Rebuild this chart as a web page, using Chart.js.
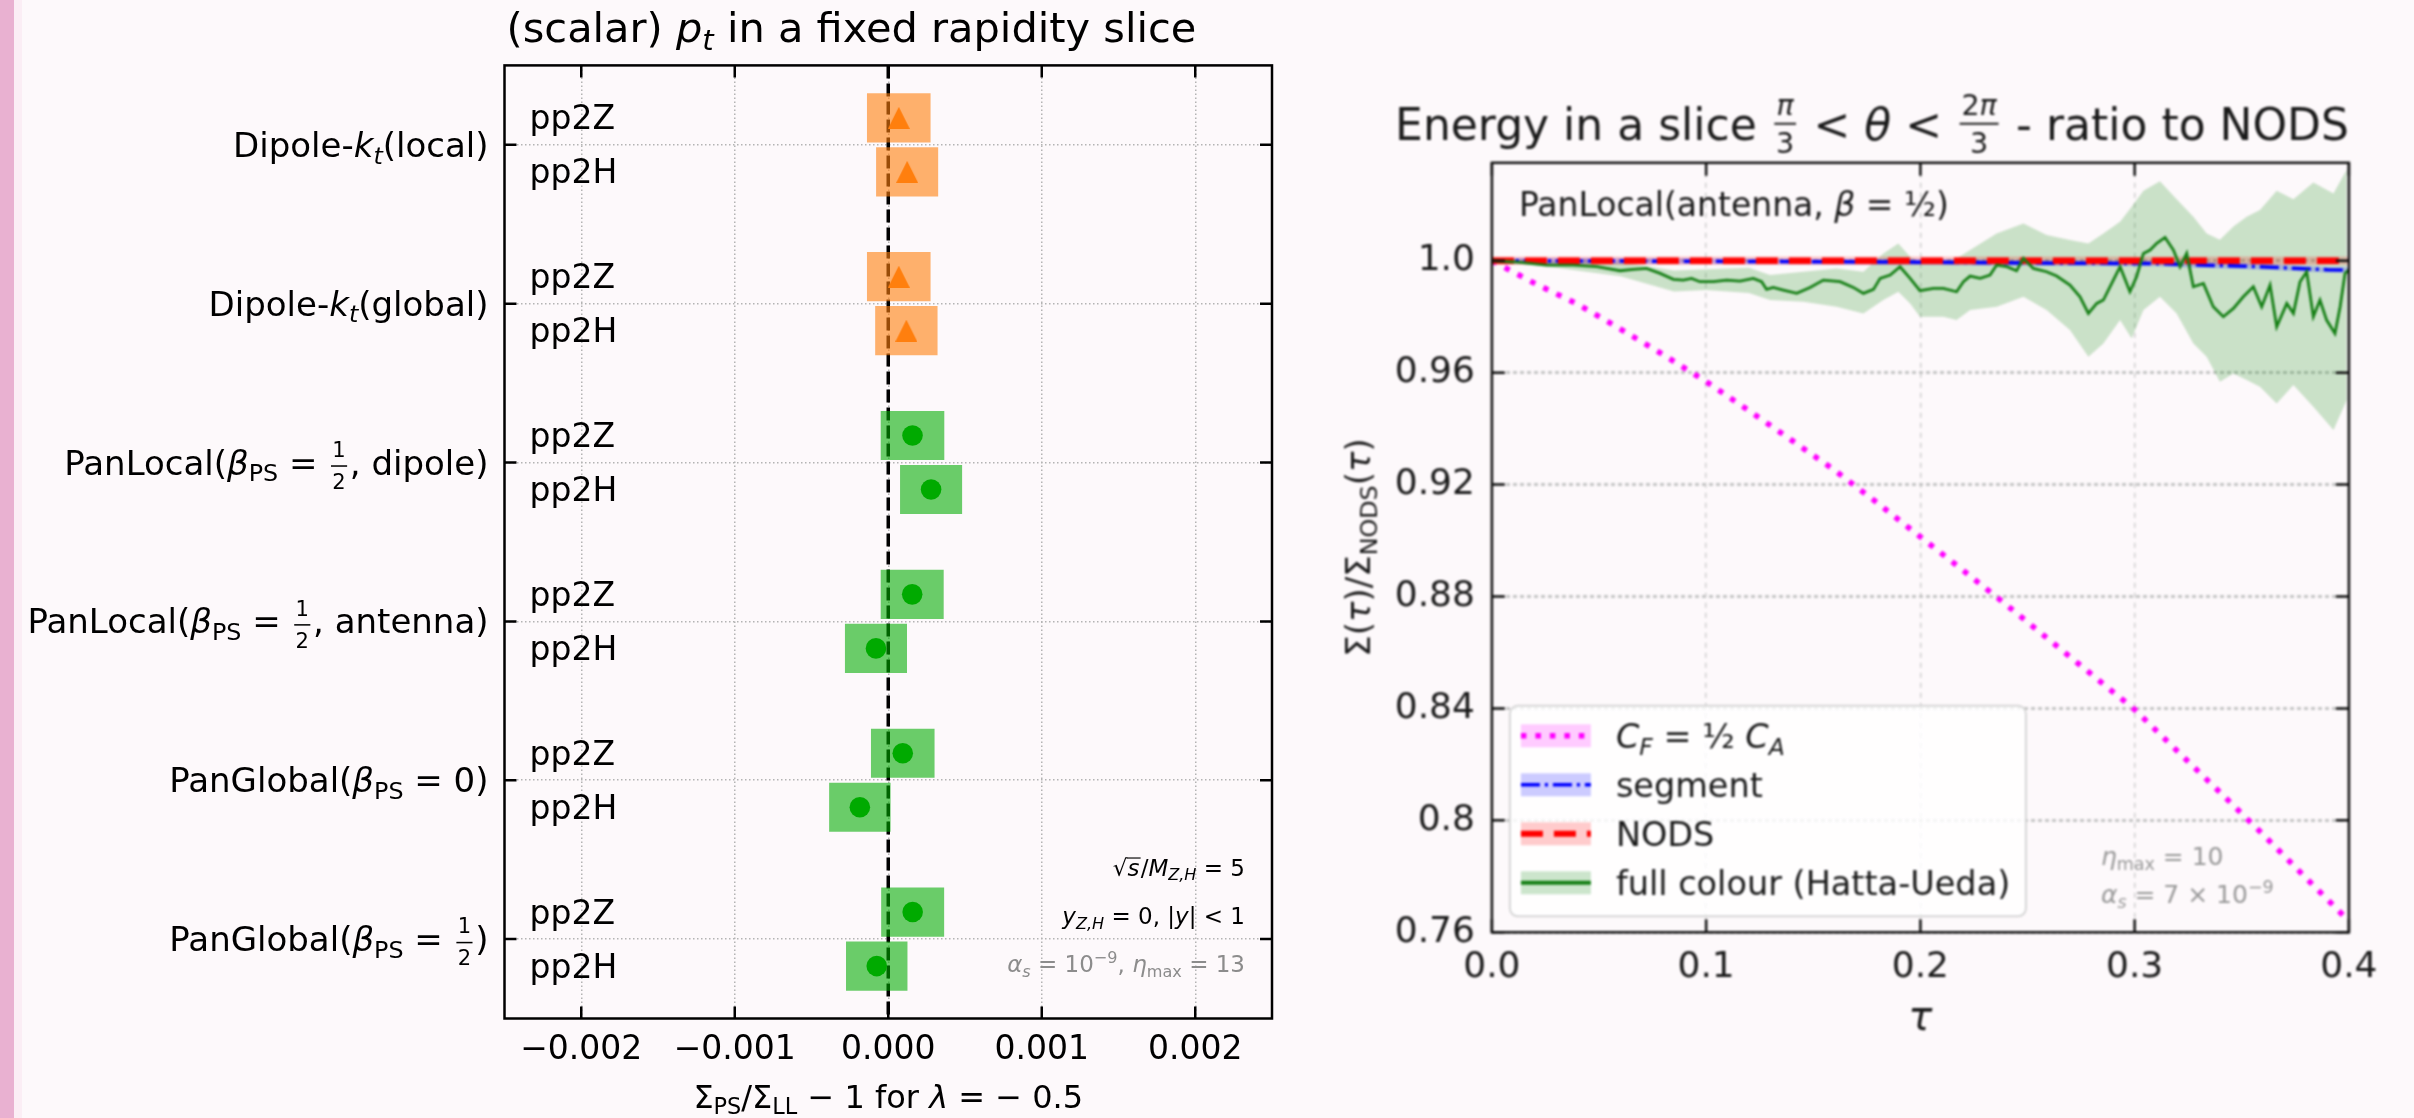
<!DOCTYPE html>
<html>
<head>
<meta charset="utf-8">
<script src="https://cdn.jsdelivr.net/npm/chart.js@4.4.1/dist/chart.umd.min.js"></script>
<style>
  html, body { margin: 0; padding: 0; background: #fdf9fb; }
  body { width: 2414px; height: 1118px; position: relative; overflow: hidden; }
  #edge { position: absolute; left: 0; top: 0; width: 14px; height: 1118px; background: #e9b1d1; }
  #edge2 { position: absolute; left: 14px; top: 0; width: 8px; height: 1118px; background: #fbeef5; }
  #left { position: absolute; left: 0; top: 0; }
  #right { position: absolute; left: 1300px; top: 0; filter: blur(1.3px); }
</style>
</head>
<body>
<div id="edge"></div><div id="edge2"></div>
<canvas id="left" width="1300" height="1118"></canvas>
<canvas id="right" width="1114" height="1118"></canvas>
<script>
// ---------- left panel: scalar pt in a rapidity slice ----------
const half = [[{t: '1'}], [{t: '2'}]];
const showers = [
  [{t: 'Dipole-'}, {t: 'k', it: 1}, {t: 't', it: 1, sub: 1}, {t: '(local)'}],
  [{t: 'Dipole-'}, {t: 'k', it: 1}, {t: 't', it: 1, sub: 1}, {t: '(global)'}],
  [{t: 'PanLocal('}, {t: 'β', it: 1}, {t: 'PS', sub: 1}, {t: ' = '}, {frac: half}, {t: ', dipole)'}],
  [{t: 'PanLocal('}, {t: 'β', it: 1}, {t: 'PS', sub: 1}, {t: ' = '}, {frac: half}, {t: ', antenna)'}],
  [{t: 'PanGlobal('}, {t: 'β', it: 1}, {t: 'PS', sub: 1}, {t: ' = 0)'}],
  [{t: 'PanGlobal('}, {t: 'β', it: 1}, {t: 'PS', sub: 1}, {t: ' = '}, {frac: half}, {t: ')'}]
];
const showerKind = ['dipole', 'dipole', 'pan', 'pan', 'pan', 'pan'];
const processes = ['pp2Z', 'pp2H'];
const shiftZ = [0.0000685, 0.0000685, 0.000158, 0.000156, 0.0000945, 0.000159];
const shiftH = [0.000123, 0.000118, 0.000279, -0.00008, -0.000185, -0.000075];
const errZ = [0.000205, 0.000205, 0.000205, 0.000203, 0.000205, 0.000203];
const errH = [0.0002, 0.000201, 0.0002, 0.0002, 0.000198, 0.000198];
const xTicks = [-0.002, -0.001, 0, 0.001, 0.002];
const xTickLabels = ['−0.002', '−0.001', '0.000', '0.001', '0.002'];

// ---------- right panel: energy in a slice, ratio to NODS ----------
const tauTicks = [0, 0.1, 0.2, 0.3, 0.4];
const tauTickLabels = ['0.0', '0.1', '0.2', '0.3', '0.4'];
const ratioTicks = [0.76, 0.8, 0.84, 0.88, 0.92, 0.96, 1.0];
const ratioTickLabels = ['0.76', '0.8', '0.84', '0.88', '0.92', '0.96', '1.0'];

const cfTau = [0, 0.02, 0.04, 0.06, 0.08, 0.10, 0.12, 0.14, 0.16, 0.18, 0.20, 0.22, 0.24, 0.26, 0.28, 0.30, 0.32, 0.34, 0.36, 0.38, 0.40];
const cfRatio = [1.0, 0.9919, 0.9845, 0.9756, 0.9664, 0.9568, 0.9464, 0.9358, 0.9251, 0.9134, 0.9013, 0.8893, 0.8771, 0.8646, 0.8521, 0.8396, 0.8247, 0.8099, 0.7949, 0.7794, 0.764];

const segTau = [0, 0.1, 0.2, 0.265, 0.31, 0.33, 0.358, 0.374, 0.39, 0.4];
const segRatio = [1.0, 0.9998, 0.9995, 0.9991, 0.999, 0.9985, 0.9979, 0.9973, 0.9968, 0.9967];
const segErr = 0.001;

const nodsTau = [0, 0.4];
const nodsRatio = [1.0, 1.0];
const nodsErr = 0.0015;

const fullTau = [0, 0.012, 0.0256, 0.038, 0.049, 0.0536, 0.0598, 0.066, 0.0722, 0.0785, 0.0847, 0.0893, 0.0932, 0.0971, 0.1034, 0.1096, 0.1158, 0.122, 0.1259, 0.1282, 0.1313,
  0.136, 0.1423, 0.1485, 0.1547, 0.1625, 0.1687, 0.1734, 0.1781, 0.1812, 0.1859, 0.1905, 0.1952, 0.1998, 0.2061, 0.2107, 0.2169, 0.2201, 0.2232, 0.2279, 0.2325, 0.2356, 0.2403, 0.2449, 0.2481, 0.2527, 0.2589, 0.2636,
  0.2698, 0.2745, 0.2784, 0.2823, 0.2854, 0.2893, 0.2932, 0.2978, 0.3009, 0.3041, 0.3072, 0.3103, 0.3142, 0.3181, 0.3212, 0.3243, 0.3274, 0.3321, 0.3367, 0.3414, 0.3461, 0.3507, 0.3554, 0.3593, 0.3632, 0.3663, 0.371, 0.3741, 0.3772, 0.3803, 0.3834, 0.3865, 0.3896, 0.3935, 0.3959, 0.3982, 0.3999];
const fullRatio = [1.0, 0.9995, 0.99845, 0.99845, 0.99786, 0.99726, 0.99643, 0.9969, 0.99726, 0.99547, 0.99333, 0.99309, 0.99369, 0.9925, 0.9925, 0.99309, 0.99273, 0.99369, 0.9925, 0.98975, 0.99047,
  0.98952, 0.98833, 0.99047, 0.99309, 0.9925, 0.99047, 0.98833, 0.98975, 0.99369, 0.99488, 0.99786, 0.99369, 0.98928, 0.99011, 0.99011, 0.98892, 0.9925, 0.99452, 0.99369, 0.99488, 0.99845, 0.99786, 0.99643, 1.00083, 0.99726, 0.99607, 0.99452,
  0.9913, 0.98713, 0.98118, 0.98475, 0.98594, 0.9919, 0.99786, 0.98892, 0.99428, 1.00262, 1.00381, 1.0062, 1.00834, 1.00381, 0.99786, 1.00262, 0.99071, 0.9919, 0.98356, 0.97999, 0.98296, 0.98713, 0.99071, 0.98356, 0.9913, 0.97641, 0.98475, 0.98118, 0.9925, 0.99607, 0.97999, 0.98594, 0.97879, 0.97403, 0.98356, 0.99547, 0.99666];

const bandTau = [0, 0.03, 0.06, 0.085, 0.10, 0.12, 0.1298, 0.1454, 0.1609, 0.1734, 0.1827, 0.1897, 0.1952, 0.1998, 0.2107, 0.2169, 0.2232, 0.2356, 0.2481, 0.2589, 0.2698, 0.2784, 0.2854, 0.2932, 0.2986, 0.3041, 0.3118, 0.3196, 0.3274, 0.3336, 0.3398, 0.3461, 0.3523, 0.3585, 0.3663, 0.3741, 0.3834, 0.3928, 0.3990];
const bandLow = [1.0, 0.9975, 0.9945, 0.989, 0.9895, 0.9885, 0.98594, 0.98535, 0.98356, 0.98118, 0.98594, 0.98892, 0.98475, 0.97999, 0.97999, 0.9788, 0.98237, 0.98356, 0.98713, 0.98237, 0.97522, 0.96569, 0.97046, 0.97879, 0.97224, 0.98237, 0.98713, 0.98118, 0.97046, 0.96569, 0.95676, 0.9597, 0.95735, 0.95497, 0.94901, 0.95556, 0.94782, 0.93948, 0.9502];
const bandHigh = [1.0, 1.0, 0.9995, 0.9965, 0.997, 0.9975, 0.99488, 0.99607, 0.99726, 0.99607, 1.00262, 1.0062, 1.00143, 0.99905, 1.00024, 1.00083, 1.00381, 1.00977, 1.01334, 1.00917, 1.00739, 1.0062, 1.00977, 1.01394, 1.0193, 1.025, 1.0284, 1.022, 1.01573, 1.00977, 1.0075, 1.0122, 1.01573, 1.01811, 1.025, 1.022, 1.028, 1.024, 1.0326];

// ---------- text helpers (mathtext-like runs) ----------
const FONT = '"DejaVu Sans", "Noto Sans", sans-serif';
const fnt = (it, size) => (it ? 'italic ' : '') + size.toFixed(2) + 'px ' + FONT;
const pts = (xs, ys) => xs.map((x, i) => ({x, y: ys[i]}));

// fraction geometry, in units of the surrounding font size
function fracGeom(tk) {
  return {fs: tk.fs || 0.62, bar: tk.bar || 0.25, up: tk.up || 0.27, dn: tk.dn || 0.22};
}

function richWidth(ctx, toks, size) {
  let w = 0;
  for (const tk of toks) {
    if (tk.frac) {
      const fs = size * fracGeom(tk).fs;
      w += Math.max(richWidth(ctx, tk.frac[0], fs), richWidth(ctx, tk.frac[1], fs)) + size * 0.24;
    } else if (tk.sqrt) {
      ctx.font = fnt(false, size);
      w += ctx.measureText('√').width + richWidth(ctx, tk.sqrt, size) + size * 0.05;
    } else {
      ctx.font = fnt(tk.it, tk.sub || tk.sup ? size * 0.7 : size);
      w += ctx.measureText(tk.t).width;
    }
  }
  return w;
}

function drawRich(ctx, toks, x, y, size, align, color) {
  const w = richWidth(ctx, toks, size);
  if (align === 'right') x -= w;
  else if (align === 'center') x -= w / 2;
  ctx.save();
  ctx.textAlign = 'left';
  ctx.textBaseline = 'alphabetic';
  ctx.fillStyle = color;
  ctx.strokeStyle = color;
  for (const tk of toks) {
    if (tk.frac) {
      const g = fracGeom(tk);
      const fs = size * g.fs;
      const nw = richWidth(ctx, tk.frac[0], fs);
      const dw = richWidth(ctx, tk.frac[1], fs);
      const fw = Math.max(nw, dw) + size * 0.24;
      const bar = y - size * g.bar;
      drawRich(ctx, tk.frac[0], x + (fw - nw) / 2, bar - size * g.up, fs, 'left', color);
      drawRich(ctx, tk.frac[1], x + (fw - dw) / 2, bar + size * g.dn + fs * 0.73, fs, 'left', color);
      ctx.lineWidth = Math.max(1, size * 0.045);
      ctx.beginPath();
      ctx.moveTo(x + size * 0.08, bar);
      ctx.lineTo(x + fw - size * 0.08, bar);
      ctx.stroke();
      x += fw;
    } else if (tk.sqrt) {
      ctx.font = fnt(false, size);
      const rw = ctx.measureText('√').width;
      ctx.fillText('√', x, y);
      const iw = richWidth(ctx, tk.sqrt, size);
      ctx.lineWidth = Math.max(1, size * 0.05);
      ctx.beginPath();
      ctx.moveTo(x + rw - size * 0.04, y - size * 0.76);
      ctx.lineTo(x + rw + iw + size * 0.05, y - size * 0.76);
      ctx.stroke();
      drawRich(ctx, tk.sqrt, x + rw, y, size, 'left', color);
      x += rw + iw + size * 0.05;
    } else {
      const fs = tk.sub || tk.sup ? size * 0.7 : size;
      const dy = tk.sub ? size * 0.2 : tk.sup ? -size * 0.4 : 0;
      ctx.font = fnt(tk.it, fs);
      ctx.fillText(tk.t, x, y + dy);
      x += ctx.measureText(tk.t).width;
    }
  }
  ctx.restore();
  return w;
}

function frameAndTicks(ctx, a, xs, ys, xScale, yScale, len, width, color) {
  ctx.save();
  ctx.strokeStyle = color;
  ctx.lineWidth = width;
  ctx.beginPath();
  xs.forEach(v => {
    const px = xScale.getPixelForValue(v);
    ctx.moveTo(px, a.bottom); ctx.lineTo(px, a.bottom - len);
    ctx.moveTo(px, a.top); ctx.lineTo(px, a.top + len);
  });
  ys.forEach(v => {
    const py = yScale.getPixelForValue(v);
    ctx.moveTo(a.left, py); ctx.lineTo(a.left + len, py);
    ctx.moveTo(a.right, py); ctx.lineTo(a.right - len, py);
  });
  ctx.stroke();
  ctx.strokeRect(a.left, a.top, a.right - a.left, a.bottom - a.top);
  ctx.restore();
}

// triangle marker centred on its bounding box
function triangleMarker(size, color) {
  const c = document.createElement('canvas');
  c.width = size; c.height = size;
  const g = c.getContext('2d');
  g.fillStyle = color;
  g.beginPath();
  g.moveTo(size / 2, 0);
  g.lineTo(size, size);
  g.lineTo(0, size);
  g.closePath();
  g.fill();
  return c;
}

const ORANGE = '#ff7f0e';
const GREEN = '#00aa00';
const rowOffset = [-0.17, 0.17];
const rows = [];
showers.forEach((s, i) => {
  [shiftZ, shiftH].forEach((vals, j) => {
    const errs = j ? errH : errZ;
    rows.push({pos: i + rowOffset[j], c: vals[i], e: errs[i], kind: showerKind[i]});
  });
});

const leftDecor = {
  id: 'leftDecor',
  afterDraw(chart) {
    const {ctx, chartArea: a, scales: {x, y}} = chart;
    frameAndTicks(ctx, a, xTicks, showers.map((s, i) => i), x, y, 12, 2.5, '#000');
    showers.forEach((toks, i) => {
      drawRich(ctx, toks, a.left - 16, y.getPixelForValue(i) + 12, 34, 'right', '#000');
      processes.forEach((p, j) => {
        drawRich(ctx, [{t: p}], a.left + 25, y.getPixelForValue(i + rowOffset[j]) + 11.5, 33, 'left', '#000');
      });
    });
    drawRich(ctx, [{t: '(scalar) '}, {t: 'p', it: 1}, {t: 't', it: 1, sub: 1}, {t: ' in a fixed rapidity slice'}], a.left + 2, 41.5, 41.5, 'left', '#000');
    drawRich(ctx, [{t: 'Σ'}, {t: 'PS', sub: 1}, {t: '/Σ'}, {t: 'LL', sub: 1}, {t: ' − 1 for '}, {t: 'λ', it: 1}, {t: ' = − 0.5'}],
      (a.left + a.right) / 2, 1107.5, 32, 'center', '#000');
    const nx = a.right - 27;
    drawRich(ctx, [{sqrt: [{t: 's', it: 1}]}, {t: '/'}, {t: 'M', it: 1}, {t: 'Z,H', it: 1, sub: 1}, {t: ' = 5'}], nx, a.bottom - 143, 23, 'right', '#000');
    drawRich(ctx, [{t: 'y', it: 1}, {t: 'Z,H', it: 1, sub: 1}, {t: ' = 0, |'}, {t: 'y', it: 1}, {t: '| < 1'}], nx, a.bottom - 94.5, 23, 'right', '#000');
    drawRich(ctx, [{t: 'α', it: 1}, {t: 's', it: 1, sub: 1}, {t: ' = 10'}, {t: '−9', sup: 1}, {t: ', '}, {t: 'η', it: 1}, {t: 'max', sub: 1}, {t: ' = 13'}], nx, a.bottom - 46.5, 23, 'right', '#8c8c8c');
  }
};

new Chart(document.getElementById('left'), {
  type: 'scatter',
  data: {
    datasets: [
      {
        type: 'line',
        data: [{x: 0, y: -0.5}, {x: 0, y: 5.5}],
        borderColor: '#000', borderWidth: 3.5, borderDash: [13, 5], borderCapStyle: 'butt',
        pointRadius: 0, order: 3
      },
      {
        type: 'bar',
        indexAxis: 'y',
        data: rows.map(r => ({y: r.pos, x: [r.c - r.e, r.c + r.e]})),
        backgroundColor: rows.map(r => r.kind === 'dipole' ? 'rgba(255,127,14,0.6)' : 'rgba(0,170,0,0.58)'),
        borderWidth: 0, barThickness: 48.5, order: 2
      },
      {
        type: 'scatter',
        data: rows.filter(r => r.kind === 'dipole').map(r => ({x: r.c, y: r.pos})),
        pointStyle: triangleMarker(22, ORANGE), pointRadius: 11, order: 1
      },
      {
        type: 'scatter',
        data: rows.filter(r => r.kind === 'pan').map(r => ({x: r.c, y: r.pos})),
        pointStyle: 'circle', pointRadius: 10.3, backgroundColor: GREEN, borderWidth: 0, order: 1
      }
    ]
  },
  options: {
    responsive: false,
    animation: false,
    events: [],
    layout: {padding: {top: 65.4, right: 28, bottom: 0, left: 0}},
    plugins: {legend: {display: false}, tooltip: {enabled: false}},
    scales: {
      x: {
        type: 'linear', min: -0.0025, max: 0.0025, offset: false,
        afterBuildTicks: s => { s.ticks = xTicks.map(v => ({value: v})); },
        afterFit: s => { s.height = 99.5; },
        grid: {color: '#b4b4b4', lineWidth: 1.5, drawTicks: false, offset: false},
        border: {display: false, dash: [1.5, 2.5]},
        ticks: {
          padding: 12, color: '#000', font: {family: 'DejaVu Sans', size: 33}, maxRotation: 0,
          callback: v => { const i = xTicks.findIndex(t => Math.abs(t - v) < 1e-9); return i >= 0 ? xTickLabels[i] : ''; }
        }
      },
      y: {
        type: 'linear', min: -0.5, max: 5.5, reverse: true, offset: false,
        afterBuildTicks: s => { s.ticks = showers.map((t, i) => ({value: i})); },
        afterFit: s => { s.width = 504.5; },
        grid: {color: '#b4b4b4', lineWidth: 1.5, drawTicks: false, offset: false},
        border: {display: false, dash: [1.5, 2.5]},
        ticks: {display: false}
      }
    }
  },
  plugins: [leftDecor]
});

// ---------- right panel ----------
const legendItems = [
  {label: [{t: 'C', it: 1}, {t: 'F', it: 1, sub: 1}, {t: ' = ½ '}, {t: 'C', it: 1}, {t: 'A', it: 1, sub: 1}], color: '#ff00ff', band: 'rgba(255,0,255,0.2)', dash: [5.5, 9], width: 5.5},
  {label: [{t: 'segment'}], color: '#0000ff', band: 'rgba(0,0,255,0.2)', dash: [19, 5, 3, 5], width: 3.5},
  {label: [{t: 'NODS'}], color: '#ff0000', band: 'rgba(255,0,0,0.2)', dash: [22, 11], width: 6},
  {label: [{t: 'full colour (Hatta-Ueda)'}], color: '#157f15', band: 'rgba(0,128,0,0.2)', dash: [], width: 4}
];

const rightDecor = {
  id: 'rightDecor',
  afterDraw(chart) {
    const {ctx, chartArea: a, scales: {x, y}} = chart;
    frameAndTicks(ctx, a, tauTicks, ratioTicks, x, y, 13, 2.5, '#111');
    const ink = '#1a1a1a';
    const big = {fs: 0.65, bar: 0.36, up: 0.2, dn: 0.2};
    drawRich(ctx, [{t: 'Energy in a slice '}, Object.assign({frac: [[{t: 'π', it: 1}], [{t: '3'}]]}, big), {t: ' < '}, {t: 'θ', it: 1}, {t: ' < '},
      Object.assign({frac: [[{t: '2'}, {t: 'π', it: 1}], [{t: '3'}]]}, big), {t: ' - ratio to NODS'}], a.right, 139.6, 44, 'right', ink);
    drawRich(ctx, [{t: 'τ', it: 1}], (a.left + a.right) / 2, 1029.8, 40, 'center', ink);
    ctx.save();
    ctx.translate(70, (a.top + a.bottom) / 2);
    ctx.rotate(-Math.PI / 2);
    drawRich(ctx, [{t: 'Σ('}, {t: 'τ', it: 1}, {t: ')/Σ'}, {t: 'NODS', sub: 1}, {t: '('}, {t: 'τ', it: 1}, {t: ')'}], 0, 0, 34, 'center', ink);
    ctx.restore();
    drawRich(ctx, [{t: 'PanLocal(antenna, '}, {t: 'β', it: 1}, {t: ' = ½)'}], a.left + 27, a.top + 53, 33, 'left', ink);
    drawRich(ctx, [{t: 'η', it: 1}, {t: 'max', sub: 1}, {t: ' = 10'}], a.left + 609, a.bottom - 67, 25, 'left', '#999');
    drawRich(ctx, [{t: 'α', it: 1}, {t: 's', it: 1, sub: 1}, {t: ' = 7 × 10'}, {t: '−9', sup: 1}], a.left + 609, a.bottom - 29, 25, 'left', '#999');

    // legend
    const lx = a.left + 18, ly = a.top + 543, lw = 516, lh = a.bottom - 16 - ly;
    ctx.save();
    ctx.fillStyle = 'rgba(255,255,255,0.8)';
    ctx.strokeStyle = '#d6d6d6';
    ctx.lineWidth = 2;
    ctx.beginPath();
    ctx.roundRect(lx, ly, lw, lh, 8);
    ctx.fill();
    ctx.stroke();
    legendItems.forEach((it, i) => {
      const cy = ly + 30 + i * 49;
      ctx.fillStyle = it.band;
      ctx.fillRect(lx + 11, cy - 11.5, 70, 23);
      ctx.strokeStyle = it.color;
      ctx.lineWidth = it.width;
      ctx.lineCap = 'butt';
      ctx.setLineDash(it.dash);
      ctx.beginPath();
      ctx.moveTo(lx + 11, cy);
      ctx.lineTo(lx + 81, cy);
      ctx.stroke();
      ctx.setLineDash([]);
      drawRich(ctx, it.label, lx + 106, cy + 12, 33.5, 'left', ink);
    });
    ctx.restore();
  }
};

const lineDs = (data, color, width, dash, order) => ({
  data, showLine: true, pointRadius: 0, borderColor: color, borderWidth: width,
  borderDash: dash, borderCapStyle: 'butt', tension: 0, fill: false, order
});
const bandDs = (data, color, fill, order) => ({
  data, showLine: true, pointRadius: 0, borderWidth: 0, borderColor: 'rgba(0,0,0,0)',
  backgroundColor: color, fill, tension: 0, order
});

new Chart(document.getElementById('right'), {
  type: 'scatter',
  data: {
    datasets: [
      bandDs(pts(bandTau, bandLow), 'rgba(0,0,0,0)', false, 30),
      bandDs(pts(bandTau, bandHigh), 'rgba(0,128,0,0.2)', '-1', 29),
      bandDs(pts(nodsTau, nodsRatio.map(v => v - nodsErr)), 'rgba(0,0,0,0)', false, 28),
      bandDs(pts(nodsTau, nodsRatio.map(v => v + nodsErr)), 'rgba(255,0,0,0.2)', '-1', 27),
      bandDs(pts(segTau, segRatio.map(v => v - segErr)), 'rgba(0,0,0,0)', false, 26),
      bandDs(pts(segTau, segRatio.map(v => v + segErr)), 'rgba(0,0,255,0.2)', '-1', 25),
      lineDs(pts(cfTau, cfRatio), '#ff00ff', 5.5, [5.5, 9], 4),
      lineDs(pts(segTau, segRatio), '#0000ff', 3.5, [19, 5, 3, 5], 3),
      lineDs(pts(nodsTau, nodsRatio), '#ff0000', 6.5, [22, 11], 2),
      lineDs(pts(fullTau, fullRatio), '#157f15', 2.8, [], 1)
    ]
  },
  options: {
    responsive: false,
    animation: false,
    events: [],
    layout: {padding: {top: 162.8, right: 65.1, bottom: 0, left: 0}},
    plugins: {legend: {display: false}, tooltip: {enabled: false}},
    scales: {
      x: {
        type: 'linear', min: 0, max: 0.4,
        afterBuildTicks: s => { s.ticks = tauTicks.map(v => ({value: v})); },
        afterFit: s => { s.height = 185.7; },
        grid: {color: '#cfcfcf', lineWidth: 1.5, drawTicks: false},
        border: {display: false, dash: [5, 5]},
        ticks: {
          padding: 14, color: '#1a1a1a', font: {family: 'DejaVu Sans', size: 36}, maxRotation: 0,
          callback: v => { const i = tauTicks.findIndex(t => Math.abs(t - v) < 1e-9); return i >= 0 ? tauTickLabels[i] : ''; }
        }
      },
      y: {
        type: 'linear', min: 0.76, max: 1.035,
        afterBuildTicks: s => { s.ticks = ratioTicks.map(v => ({value: v})); },
        afterFit: s => { s.width = 191.9; },
        grid: {color: '#c6c6c6', lineWidth: 3, drawTicks: false},
        border: {display: false, dash: [4, 3]},
        ticks: {
          padding: 17, color: '#1a1a1a', font: {family: 'DejaVu Sans', size: 36},
          callback: v => { const i = ratioTicks.findIndex(t => Math.abs(t - v) < 1e-9); return i >= 0 ? ratioTickLabels[i] : ''; }
        }
      }
    }
  },
  plugins: [rightDecor]
});
</script>
</body>
</html>
